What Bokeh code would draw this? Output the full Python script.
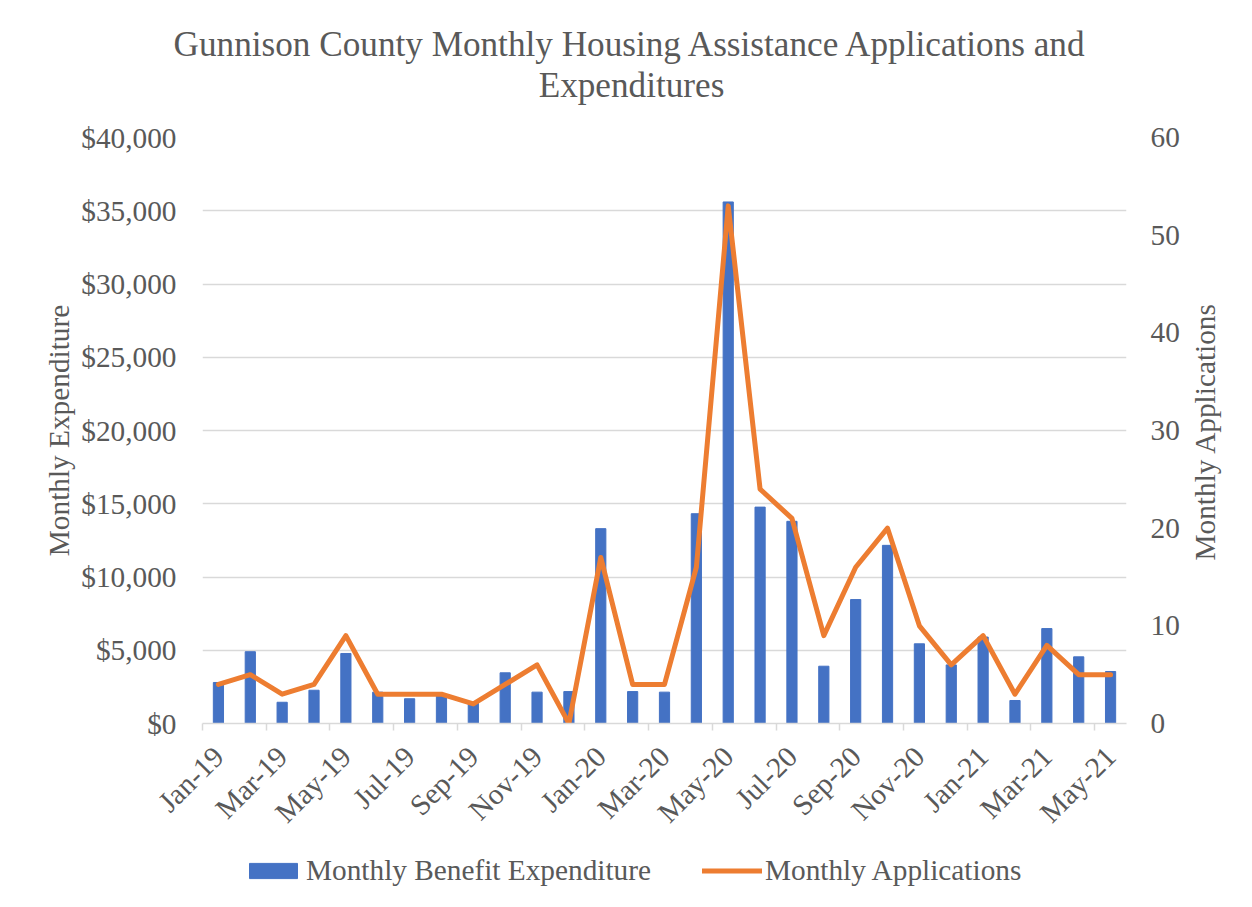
import math
from bokeh.plotting import figure
from bokeh.layouts import column, row
from bokeh.models import (Range1d, LinearAxis, FixedTicker, NumeralTickFormatter,
                          Label, Legend, LegendItem, ColumnDataSource)
from bokeh.embed import file_html
from bokeh.resources import INLINE

# ---------------- data ----------------
months = ["Jan-19", "Feb-19", "Mar-19", "Apr-19", "May-19", "Jun-19", "Jul-19", "Aug-19",
          "Sep-19", "Oct-19", "Nov-19", "Dec-19", "Jan-20", "Feb-20", "Mar-20", "Apr-20",
          "May-20", "Jun-20", "Jul-20", "Aug-20", "Sep-20", "Oct-20", "Nov-20", "Dec-20",
          "Jan-21", "Feb-21", "Mar-21", "Apr-21", "May-21"]
expenditure = [2800, 4900, 1450, 2270, 4780, 2140, 1690, 1910, 1400, 3460, 2140, 2180,
               13300, 2180, 2140, 14320, 35600, 14770, 13800, 3910, 8460, 12160, 5440, 4000,
               5900, 1570, 6480, 4550, 3550]
applications = [4, 5, 3, 4, 9, 3, 3, 3, 2, 4, 6, 0,
                17, 4, 4, 16, 53, 24, 21, 9, 16, 20, 10, 6,
                9, 3, 8, 5, 5]
title_lines = ["Gunnison County Monthly Housing Assistance Applications and", "Expenditures"]
left_title = "Monthly Expenditure"
right_title = "Monthly Applications"
series_names = ["Monthly Benefit Expenditure", "Monthly Applications"]
exp_ticks = [0, 5000, 10000, 15000, 20000, 25000, 30000, 35000, 40000]
app_ticks = [0, 10, 20, 30, 40, 50, 60]

# ---------------- style ----------------
FONT = "Liberation Serif"
GREY = "#595959"
LIGHT = "#d9d9d9"
BLUE = "#4472C4"
ORANGE = "#ED7D31"
TICK_FS = "29.3px"
TITLE_FS = "35.2px"

TOTAL_W = 1250
TITLE_H = 115          # title strip
MAIN_W, MAIN_H = 1184, 730
SIDE_W = TOTAL_W - MAIN_W
LEG_H = 60
# plot frame edges in page pixels
FL, FR, FT, FB = 202, 1126, 137, 723


def blank(w, h):
    f = figure(width=w, height=h, output_backend="svg", toolbar_location=None,
               x_axis_location=None, y_axis_location=None,
               min_border=0, min_border_left=0, min_border_right=0,
               min_border_top=0, min_border_bottom=0)
    f.outline_line_color = None
    f.xgrid.visible = False
    f.ygrid.visible = False
    return f


n = len(months)
xs = list(range(n))
src = ColumnDataSource(dict(x=xs, exp=expenditure, apps=applications))

# ---------------- title strip ----------------
tf = blank(TOTAL_W, TITLE_H)
tf.add_layout(Label(x=630.5, y=TITLE_H - 43.5, x_units="screen", y_units="screen",
                    text=title_lines[0], text_align="center", text_baseline="middle",
                    text_font=FONT, text_font_size=TITLE_FS, text_color=GREY))
tf.add_layout(Label(x=631, y=TITLE_H - 85, x_units="screen", y_units="screen",
                    text=title_lines[1], text_align="center", text_baseline="middle",
                    text_font=FONT, text_font_size=TITLE_FS, text_color=GREY))

# ---------------- main chart ----------------
p = figure(width=MAIN_W, height=MAIN_H, output_backend="svg", toolbar_location=None,
           x_range=Range1d(-0.5, n - 0.5), y_range=Range1d(exp_ticks[0], exp_ticks[-1]),
           min_border_left=FL, min_border_right=MAIN_W - FR,
           min_border_top=FT - TITLE_H, min_border_bottom=TITLE_H + MAIN_H - FB)
p.outline_line_color = None
p.extra_y_ranges = {"apps": Range1d(app_ticks[0], app_ticks[-1])}

p.xgrid.visible = False
p.ygrid.ticker = FixedTicker(ticks=exp_ticks)
p.ygrid.grid_line_color = LIGHT
p.ygrid.grid_line_width = 1.5

xa = p.xaxis[0]
label_idx = list(range(0, n, 2))
xa.ticker = FixedTicker(ticks=label_idx, minor_ticks=[i - 0.5 for i in label_idx])
xa.major_label_overrides = {i: months[i] for i in label_idx}
xa.major_label_orientation = math.pi / 4
xa.axis_line_color = LIGHT
xa.axis_line_width = 1.5
xa.major_tick_line_color = None
xa.major_tick_in = 0
xa.major_tick_out = 0
xa.minor_tick_line_color = LIGHT
xa.minor_tick_line_width = 1.5
xa.minor_tick_in = 0
xa.minor_tick_out = 7
xa.major_label_standoff = 21
xa.major_label_text_font = FONT
xa.major_label_text_font_size = TICK_FS
xa.major_label_text_color = GREY

ya = p.yaxis[0]
ya.ticker = FixedTicker(ticks=exp_ticks)
ya.formatter = NumeralTickFormatter(format="$0,0")
ya.axis_line_color = None
ya.major_tick_line_color = None
ya.minor_tick_line_color = None
ya.major_tick_in = 0
ya.major_tick_out = 0
ya.major_label_standoff = 26
ya.major_label_text_font = FONT
ya.major_label_text_font_size = TICK_FS
ya.major_label_text_color = GREY
ya.axis_label = left_title
ya.axis_label_standoff = 3
ya.axis_label_text_font = FONT
ya.axis_label_text_font_size = TICK_FS
ya.axis_label_text_font_style = "normal"
ya.axis_label_text_color = GREY

ra = LinearAxis(y_range_name="apps", ticker=FixedTicker(ticks=app_ticks))
ra.axis_line_color = None
ra.major_tick_line_color = None
ra.minor_tick_line_color = None
ra.major_tick_in = 0
ra.major_tick_out = 0
ra.major_label_standoff = 24
ra.major_label_text_font = FONT
ra.major_label_text_font_size = TICK_FS
ra.major_label_text_color = GREY
p.add_layout(ra, "right")

bars = p.vbar(x="x", top="exp", width=0.32, source=src, fill_color=BLUE, line_color=BLUE)
line = p.line(x="x", y="apps", source=src, y_range_name="apps", line_color=ORANGE,
              line_width=5, line_join="round", line_cap="round")

# ---------------- right axis title strip (frame is aligned with the chart frame) ----------
rf = blank(SIDE_W, MAIN_H)
rf.add_layout(Label(x=1204 - MAIN_W, y=FB - 431, x_units="screen",
                    y_units="screen", text=right_title, angle=math.pi / 2,
                    text_align="center", text_baseline="middle", text_font=FONT,
                    text_font_size=TICK_FS, text_color=GREY))

# ---------------- legend strip ----------------
lf = blank(TOTAL_W, LEG_H)
lf.x_range = Range1d(-0.5, n - 0.5)
lf.y_range = Range1d(0, 1)
# hidden copies of the two series: they only supply the legend swatches
proxy_bar = lf.vbar(x="x", top="exp", width=0.32, source=src, fill_color=BLUE, line_color=BLUE,
                    visible=False)
proxy_line = lf.line(x="x", y="apps", source=src, line_color=ORANGE, line_width=5,
                     line_join="round", line_cap="round", visible=False)
legend = Legend(items=[LegendItem(label=series_names[0], renderers=[proxy_bar]),
                       LegendItem(label=series_names[1], renderers=[proxy_line])],
                location=(243, 18), orientation="horizontal",
                border_line_color=None, background_fill_alpha=0,
                inactive_fill_alpha=0,
                padding=0, margin=0, spacing=51, label_standoff=3,
                glyph_width=60, glyph_height=19,
                label_text_font=FONT, label_text_font_size=TICK_FS,
                label_text_color=GREY)
lf.add_layout(legend)

layout = column(tf, row(p, rf, spacing=0), lf, spacing=0)
open("out.html", "w").write(file_html(layout, INLINE))
